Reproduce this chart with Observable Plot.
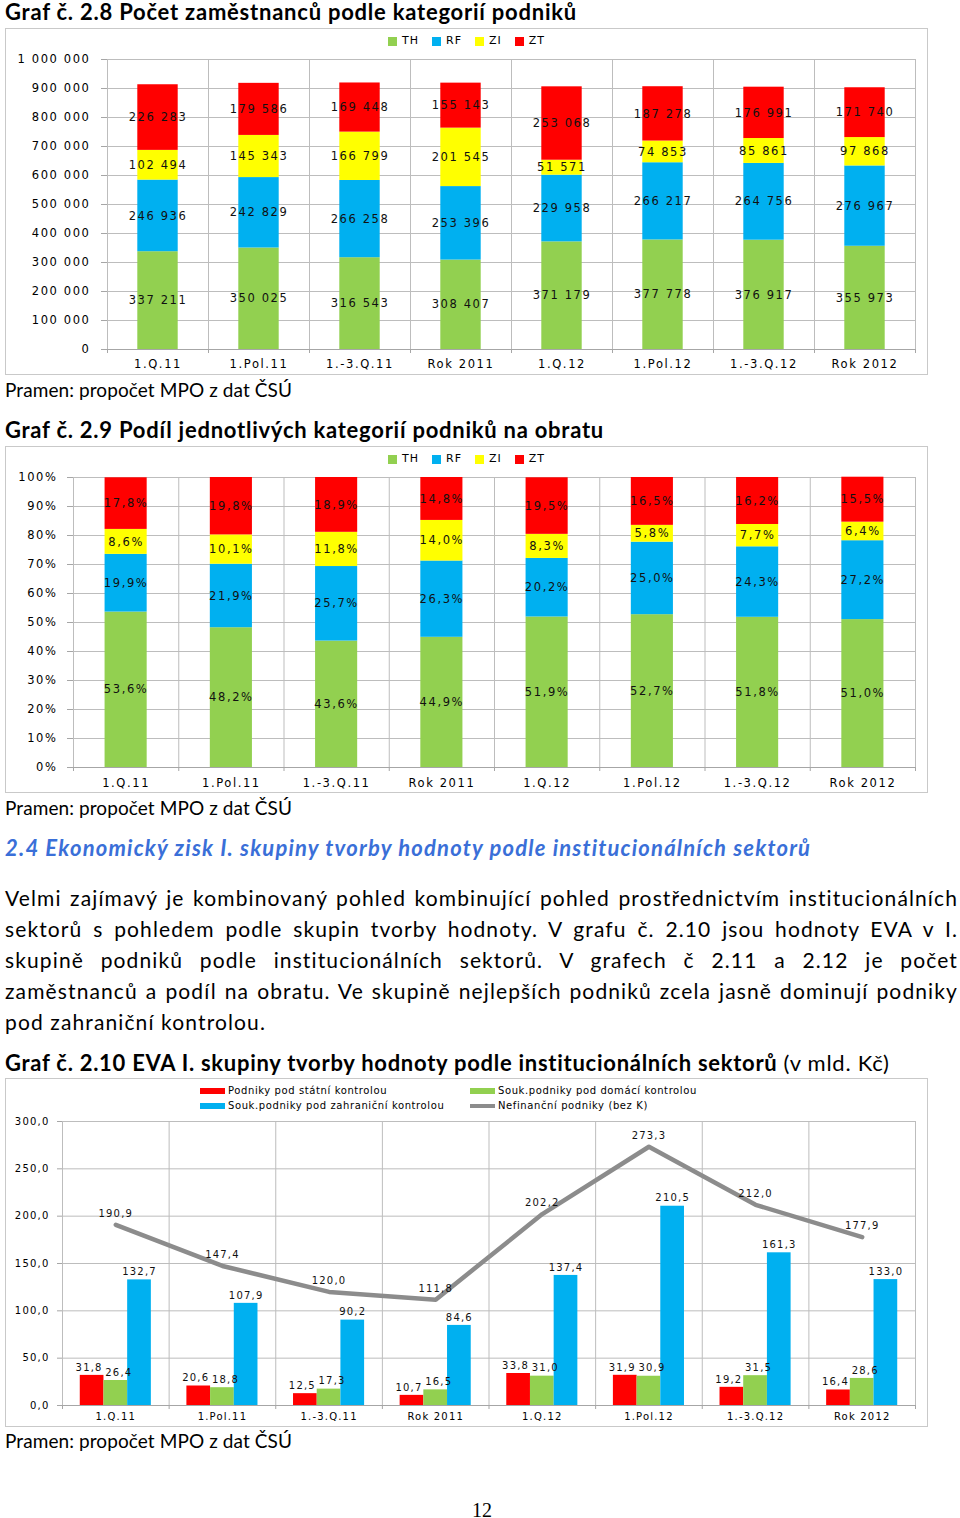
<!DOCTYPE html>
<html><head><meta charset="utf-8">
<script src="https://cdn.jsdelivr.net/npm/d3@7"></script>
<script src="https://cdn.jsdelivr.net/npm/@observablehq/plot@0.6"></script>
<style>
html,body{margin:0;padding:0;background:#fff}
body{width:960px;height:1518px;position:relative;overflow:hidden;font-family:Lato,"Open Sans",sans-serif;color:#000}
.abs{position:absolute}
.title{left:5px;font-weight:bold;font-size:22px;line-height:1;white-space:nowrap}
.title .nb{font-weight:normal}
.frame{border:1px solid #c9c9c9;box-sizing:border-box;left:5px;width:923px}
.src{left:5px;font-size:19px;line-height:1;white-space:nowrap}
.legend{display:flex;align-items:center;gap:13px;font-family:"DejaVu Sans",sans-serif;font-size:11px;letter-spacing:1px;line-height:1;white-space:nowrap}
.legend .sw{display:inline-block;width:9px;height:9px;margin-right:5px;vertical-align:middle}
.legend3{display:grid;grid-template-columns:270px auto;row-gap:4px;font-family:"DejaVu Sans",sans-serif;font-size:10px;letter-spacing:0.6px;line-height:11px;white-space:nowrap}
.legend3 .sw{display:inline-block;width:25px;height:6px;margin-right:3px;vertical-align:middle}
.legend3 .ln{height:4px}
.heading{left:5px;font-weight:bold;font-style:italic;font-size:22px;line-height:1;color:#3a6fd8;white-space:nowrap}
.para{left:5px;width:953px;font-size:21px;line-height:31px}
.para div{white-space:nowrap}
.page{left:0;width:964px;text-align:center;font-family:"Liberation Serif",serif;font-size:20px;line-height:1}
svg.chart{position:absolute}
</style>
</head>
<body>
<script>
// ---------- DATA ----------
const categories = ["1.Q.11","1.Pol.11","1.-3.Q.11","Rok 2011","1.Q.12","1.Pol.12","1.-3.Q.12","Rok 2012"];

// Graf 2.8 - počet zaměstnanců
const kategorie = ["TH","RF","ZI","ZT"];
const kategorieColors = ["#92D050","#00B0F0","#FFFF00","#FF0000"];
const empTH = [337211,350025,316543,308407,371179,377778,376917,355973];
const empRF = [246936,242829,266258,253396,229958,266217,264756,276967];
const empZI = [102494,145343,166799,201545,51571,74853,85861,97868];
const empZT = [226283,179586,169448,155143,253068,187278,176991,171740];
const empTicks = [0,100000,200000,300000,400000,500000,600000,700000,800000,900000,1000000];

// Graf 2.9 - podíl na obratu (%)
const shareTH = [53.6,48.2,43.6,44.9,51.9,52.7,51.8,51.0];
const shareRF = [19.9,21.9,25.7,26.3,20.2,25.0,24.3,27.2];
const shareZI = [8.6,10.1,11.8,14.0,8.3,5.8,7.7,6.4];
const shareZT = [17.8,19.8,18.9,14.8,19.5,16.5,16.2,15.5];
const shareTicks = [0,10,20,30,40,50,60,70,80,90,100];

// Graf 2.10 - EVA (mld. Kč)
const sectors = ["Podniky pod státní kontrolou","Souk.podniky pod domácí kontrolou","Souk.podniky pod zahraniční kontrolou","Nefinanční podniky (bez K)"];
const sectorColors = ["#FF0000","#92D050","#00B0F0","#8C8C8C"];
const evaStatni = [31.8,20.6,12.5,10.7,33.8,31.9,19.2,16.4];
const evaDomaci = [26.4,18.8,17.3,16.5,31.0,30.9,31.5,28.6];
const evaZahranicni = [132.7,107.9,90.2,84.6,137.4,210.5,161.3,133.0];
const evaNefinancni = [190.9,147.4,120.0,111.8,202.2,273.3,212.0,177.9];
const evaTicks = [0,50,100,150,200,250,300];

const paragraphLines = [
  "Velmi zajímavý je kombinovaný pohled kombinující pohled prostřednictvím institucionálních",
  "sektorů s pohledem podle skupin tvorby hodnoty. V grafu č. 2.10 jsou hodnoty EVA v I.",
  "skupině podniků podle institucionálních sektorů. V grafech č 2.11 a 2.12 je počet",
  "zaměstnanců a podíl na obratu. Ve skupině nejlepších podniků zcela jasně dominují podniky",
  "pod zahraniční kontrolou."
];

// ---------- HELPERS ----------
const body = document.body;
function el(tag, cls, top, html, extra) {
  const e = document.createElement(tag);
  if (cls) e.className = cls;
  e.classList.add("abs");
  e.style.top = top + "px";
  if (html != null) e.innerHTML = html;
  if (extra) Object.assign(e.style, extra);
  body.appendChild(e);
  return e;
}
function fitLetters(e, target) {
  e.style.letterSpacing = "0px";
  const w = e.getBoundingClientRect().width;
  const n = e.textContent.length;
  e.style.letterSpacing = ((target - w) / n) + "px";
}
const grid = "#bdbdbd", axisCol = "#a6a6a6";
const fmtSpace = v => d3.format(",")(v).replace(/,/g, "\u00a0");
const fmtComma1 = v => v.toFixed(1).replace(".", ",");

function legendTop(top) {
  const lg = el("div", "legend", top, null, {left: "388px"});
  kategorie.forEach((k, j) => {
    const s = document.createElement("span");
    s.innerHTML = `<span class="sw" style="background:${kategorieColors[j]}"></span>${k}`;
    lg.appendChild(s);
  });
}

function stackedChart({values, ticks, yMax, tickFmt, labelFmt, marginLeft, yPad, xPad}) {
  const data = [];
  kategorie.forEach((k, j) => values[j].forEach((v, i) => data.push({i, series: k, value: v})));
  const bounds = d3.range(categories.length + 1);
  const centers = d3.range(categories.length).map(i => i + 0.5);
  return Plot.plot({
    width: 923, height: 323, marginLeft, marginRight: 13, marginTop: 9, marginBottom: 24,
    style: {fontFamily: "'DejaVu Sans', sans-serif", fontSize: "11.5px", letterSpacing: "1.6px", background: "transparent", color: "#000", overflow: "visible"},
    x: {type: "linear", domain: [0, categories.length], label: null},
    y: {domain: [0, yMax], label: null},
    color: {domain: kategorie, range: kategorieColors},
    marks: [
      Plot.gridY(ticks, {stroke: grid, strokeOpacity: 1}),
      Plot.gridX(bounds, {stroke: grid, strokeOpacity: 1}),
      Plot.rectY(data, Plot.stackY({x: "i", x1: d => d.i + 0.3, x2: d => d.i + 0.7, y: "value", fill: "series"})),
      Plot.text(data, Plot.stackY({x: d => d.i + 0.5, y: "value", text: d => labelFmt(d.value), fill: "#111"})),
      Plot.ruleY([0], {stroke: axisCol}),
      Plot.axisY(ticks, {tickSize: 6, tickPadding: yPad, stroke: axisCol, tickFormat: tickFmt}),
      Plot.axisX(bounds, {tickSize: 4, stroke: axisCol, tickFormat: () => ""}),
      Plot.axisX(centers, {tickSize: 0, tickPadding: xPad, tickFormat: t => categories[Math.floor(t)]})
    ]
  });
}

// ---------- GRAF 2.8 ----------
const t1 = el("div", "title", 1, "Graf č. 2.8 Počet zaměstnanců podle kategorií podniků");
el("div", "frame", 28, null, {height: "347px"});
legendTop(35);
const c1 = stackedChart({values: [empTH, empRF, empZI, empZT], ticks: empTicks, yMax: 1000000,
  tickFmt: fmtSpace, labelFmt: fmtSpace, marginLeft: 102, yPad: 11, xPad: 10});
c1.classList.add("chart"); c1.style.left = "5px"; c1.style.top = "50px"; body.appendChild(c1);
const s1 = el("div", "src", 379.5, "Pramen: propočet MPO z dat ČSÚ");

// ---------- GRAF 2.9 ----------
const t2 = el("div", "title", 419, "Graf č. 2.9 Podíl jednotlivých kategorií podniků na obratu");
el("div", "frame", 446, null, {height: "347px"});
legendTop(453);
const c2 = stackedChart({values: [shareTH, shareRF, shareZI, shareZT], ticks: shareTicks, yMax: 100,
  tickFmt: d => d + "%", labelFmt: d => fmtComma1(d) + "%", marginLeft: 68, yPad: 10, xPad: 11});
c2.classList.add("chart"); c2.style.left = "5px"; c2.style.top = "468px"; body.appendChild(c2);
const s2 = el("div", "src", 797.5, "Pramen: propočet MPO z dat ČSÚ");

// ---------- TEXT ----------
const h = el("div", "heading", 837, "2.4 Ekonomický zisk I. skupiny tvorby hodnoty podle institucionálních sektorů");
const para = el("div", "para", 881.5);
const lineEls = paragraphLines.map(t => {
  const d = document.createElement("div");
  const sp = document.createElement("span");
  sp.textContent = t;
  d.appendChild(sp);
  para.appendChild(d);
  return sp;
});

// ---------- GRAF 2.10 ----------
const t3 = el("div", "title", 1052, "Graf č. 2.10 EVA I. skupiny tvorby hodnoty podle institucionálních sektorů <span class=\"nb\">(v mld. Kč)</span>");
el("div", "frame", 1078, null, {height: "349px"});
const lg3 = el("div", "legend3", 1084.5, null, {left: "200px"});
[0, 1, 2, 3].forEach(j => {
  const s = document.createElement("span");
  s.innerHTML = `<span class="sw${j === 3 ? " ln" : ""}" style="background:${sectorColors[j]}"></span>${sectors[j]}`;
  lg3.appendChild(s);
});

const barData = [];
[evaStatni, evaDomaci, evaZahranicni].forEach((arr, k) => arr.forEach((v, i) => barData.push({i, k, sector: sectors[k], value: v})));
const lineData = evaNefinancni.map((v, i) => ({i, value: v}));
const bx1 = d => d.i + 1/6 + d.k * 2/9;
const bx2 = d => d.i + 1/6 + (d.k + 1) * 2/9;
const bounds3 = d3.range(categories.length + 1);
const centers3 = d3.range(categories.length).map(i => i + 0.5);
const labelShift = [-3, 3, 0];
const c3 = Plot.plot({
  width: 923, height: 313, marginLeft: 57, marginRight: 13, marginTop: 9, marginBottom: 20,
  style: {fontFamily: "'DejaVu Sans', sans-serif", fontSize: "10px", letterSpacing: "1.2px", background: "transparent", color: "#000", overflow: "visible"},
  x: {type: "linear", domain: [0, categories.length], label: null},
  y: {domain: [0, 300], label: null},
  color: {domain: sectors.slice(0, 3), range: sectorColors.slice(0, 3)},
  marks: [
    Plot.gridY(evaTicks, {stroke: grid, strokeOpacity: 1}),
    Plot.gridX(bounds3, {stroke: grid, strokeOpacity: 1}),
    Plot.rectY(barData, {x1: bx1, x2: bx2, y1: 0, y2: "value", fill: "sector"}),
    Plot.line(lineData, {x: d => d.i + 0.5, y: "value", stroke: sectorColors[3], strokeWidth: 4.5}),
    ...[0, 1, 2].map(k => Plot.text(barData.filter(d => d.k === k), {
      x: d => (bx1(d) + bx2(d)) / 2, y: "value", text: d => fmtComma1(d.value),
      dy: -8, dx: labelShift[k], fill: "#111", letterSpacing: k < 2 ? "0.4px" : "1.2px"})),
    Plot.text(lineData, {x: d => d.i + 0.5, y: "value", text: d => fmtComma1(d.value), dy: -11, fill: "#111"}),
    Plot.ruleY([0], {stroke: axisCol}),
    Plot.axisY(evaTicks, {tickSize: 5, tickPadding: 8, stroke: axisCol, tickFormat: d => fmtComma1(d)}),
    Plot.axisX(bounds3, {tickSize: 4, stroke: axisCol, tickFormat: () => ""}),
    Plot.axisX(centers3, {tickSize: 0, tickPadding: 7, tickFormat: t => categories[Math.floor(t)]})
  ]
});
c3.classList.add("chart"); c3.style.left = "5px"; c3.style.top = "1112px"; body.appendChild(c3);
const s3 = el("div", "src", 1430.5, "Pramen: propočet MPO z dat ČSÚ");

el("div", "page", 1500, "12");

// ---------- fit text widths to the reference ----------
fitLetters(t1, 572);
fitLetters(t2, 599);
fitLetters(t3, 885);
fitLetters(h, 806);
[s1, s2, s3].forEach(s => fitLetters(s, 287));
const last = lineEls[lineEls.length - 1];
fitLetters(last, 261);
const ls = last.style.letterSpacing;
lineEls.forEach((sp, idx) => {
  sp.style.letterSpacing = ls;
  if (idx === lineEls.length - 1) return;
  sp.style.wordSpacing = "0px";
  const w = sp.getBoundingClientRect().width;
  const spaces = (sp.textContent.match(/ /g) || []).length;
  sp.style.wordSpacing = ((953 - w) / spaces) + "px";
});
</script>
</body></html>
